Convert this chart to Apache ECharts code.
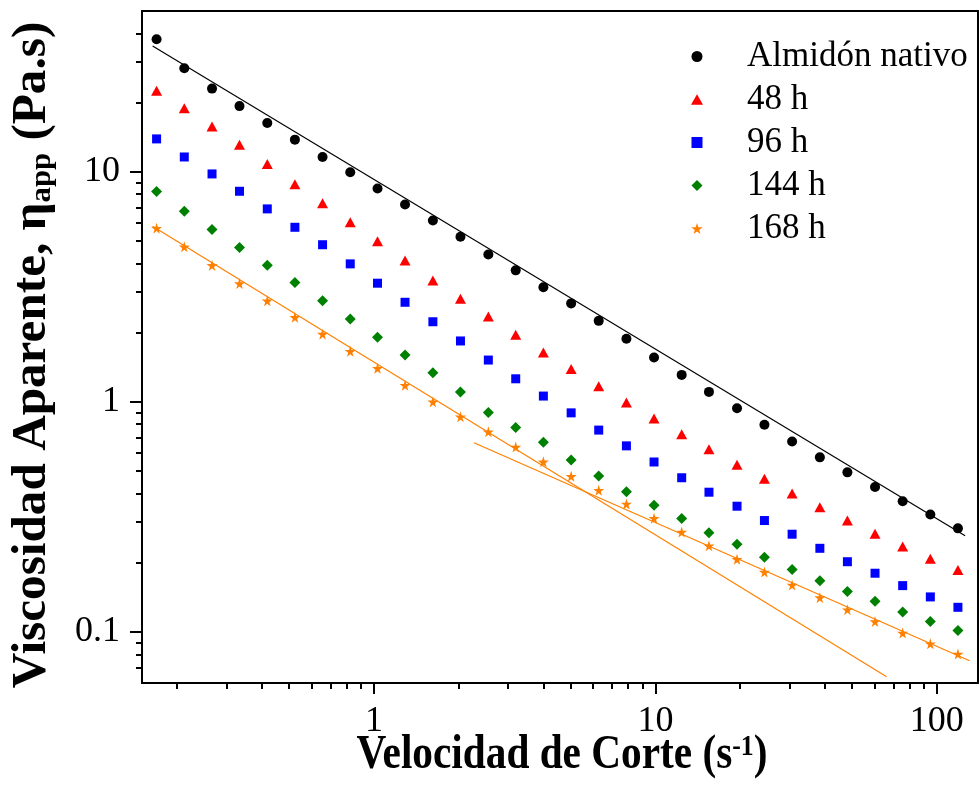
<!DOCTYPE html>
<html>
<head>
<meta charset="utf-8">
<script src="https://cdn.jsdelivr.net/npm/echarts@6/dist/echarts.min.js"></script>
<style>
html, body { margin: 0; padding: 0; background: #fff; }
#chart { width: 979px; height: 791px; }
</style>
</head>
<body>
<div id="chart"></div>
<script>
// velocidad de corte (1/s)
var shearRate = [0.169, 0.212, 0.266, 0.333, 0.418, 0.524, 0.657, 0.824, 1.03, 1.29,
    1.62, 2.03, 2.55, 3.19, 4.0, 5.02, 6.29, 7.89, 9.89, 12.4,
    15.5, 19.5, 24.4, 30.6, 38.4, 48.1, 60.3, 75.6, 94.8, 118.8];

// viscosidad aparente (Pa.s)
var nativo = [37.7, 28.2, 23.0, 19.3, 16.3, 13.8, 11.6, 9.95, 8.46, 7.21,
    6.14, 5.22, 4.37, 3.73, 3.15, 2.68, 2.25, 1.88, 1.56, 1.31,
    1.105, 0.939, 0.795, 0.673, 0.574, 0.494, 0.427, 0.370, 0.324, 0.282];
var h48 = [22.5, 18.9, 15.75, 13.1, 10.8, 8.83, 7.30, 6.04, 4.99, 4.12,
    3.37, 2.81, 2.35, 1.96, 1.64, 1.39, 1.17, 0.994, 0.847, 0.724,
    0.622, 0.533, 0.463, 0.400, 0.348, 0.305, 0.267, 0.235, 0.208, 0.186];
var h96 = [13.9, 11.6, 9.79, 8.23, 6.90, 5.74, 4.82, 3.98, 3.28, 2.71,
    2.23, 1.84, 1.52, 1.26, 1.06, 0.896, 0.754, 0.644, 0.548, 0.468,
    0.405, 0.352, 0.305, 0.266, 0.231, 0.202, 0.180, 0.159, 0.142, 0.128];
var h144 = [8.21, 6.74, 5.61, 4.69, 3.93, 3.30, 2.75, 2.29, 1.91, 1.60,
    1.34, 1.105, 0.900, 0.774, 0.667, 0.559, 0.476, 0.407, 0.355, 0.311,
    0.270, 0.2405, 0.211, 0.187, 0.167, 0.150, 0.136, 0.122, 0.111, 0.1015];
var h168 = [5.69, 4.72, 3.92, 3.27, 2.75, 2.33, 1.97, 1.66, 1.40, 1.18,
    1.00, 0.861, 0.741, 0.636, 0.549, 0.475, 0.413, 0.360, 0.312, 0.272,
    0.237, 0.207, 0.182, 0.160, 0.141, 0.125, 0.111, 0.0989, 0.0889, 0.0802];

// rectas de ajuste (extremos)
var fitNativoX = [0.1636, 126];
var fitNativoY = [35.2, 0.262];
var fit168aX = [0.1636, 66.3];
var fit168aY = [5.80, 0.0639];
var fit168bX = [2.266, 130.7];
var fit168bY = [0.664, 0.0750];

var seriesNames = ['Almidón nativo', '48 h', '96 h', '144 h', '168 h'];

// ticks
var xMajor = [1, 10, 100];
var xMinor = [0.2, 0.3, 0.4, 0.5, 0.6, 0.7, 0.8, 0.9, 2, 3, 4, 5, 6, 7, 8, 9,
    20, 30, 40, 50, 60, 70, 80, 90];
var yMajor = [0.1, 1, 10];
var yMinor = [0.07, 0.08, 0.09, 0.2, 0.3, 0.4, 0.5, 0.6, 0.7, 0.8, 0.9,
    2, 3, 4, 5, 6, 7, 8, 9, 20, 30, 40];

// simbolos como path para que la leyenda conserve la proporcion
var starPath = 'path://M50,0 L61,35 L98,35 L68,57 L79,91 L50,70 L21,91 L32,57 L2,35 L39,35 Z';
var trianglePath = 'path://M50,0 L100,88 L0,88 Z';
var squarePath = 'path://M0,0 L100,0 L100,100 L0,100 Z';
var diamondPath = 'path://M50,0 L100,50 L50,100 L0,50 Z';
var serifFont = '"Liberation Serif", "Times New Roman", serif';

function pairs(xs, ys) {
    var out = [];
    for (var i = 0; i < xs.length; i++) out.push([xs[i], ys[i]]);
    return out;
}

function logAxis(min, max, extra) {
    var base = {
        type: 'log', logBase: 10, min: min, max: max,
        splitLine: { show: false },
        axisLine: { show: false, onZero: false },
        axisTick: { show: false },
        axisLabel: { show: false }
    };
    return Object.assign(base, extra);
}

var chart = echarts.init(document.getElementById('chart'));

var lineStyle = { color: '#000', width: 2 };
var tickStyle = { color: '#000', width: 2 };
var labelStyle = { color: '#000', fontFamily: serifFont, fontSize: 36 };

var option = {
    animation: false,
    backgroundColor: '#fff',
    grid: { left: 142, right: 1, top: 11, bottom: 108 },
    xAxis: [
        logAxis(0.15, 140, {
            position: 'bottom',
            axisLine: { show: true, onZero: false, lineStyle: lineStyle },
            axisTick: { show: true, inside: false, length: 11, lineStyle: tickStyle, customValues: xMajor },
            axisLabel: Object.assign({ show: true, margin: 21, customValues: xMajor }, labelStyle)
        }),
        logAxis(0.15, 140, {
            position: 'bottom',
            axisTick: { show: true, inside: false, length: 6, lineStyle: tickStyle, customValues: xMinor }
        }),
        logAxis(0.15, 140, {
            position: 'top',
            axisLine: { show: true, onZero: false, lineStyle: lineStyle }
        })
    ],
    yAxis: [
        logAxis(0.06, 50, {
            position: 'left',
            axisLine: { show: true, onZero: false, lineStyle: lineStyle },
            axisTick: { show: true, inside: false, length: 12, lineStyle: tickStyle, customValues: yMajor },
            axisLabel: Object.assign({ show: true, margin: 22, customValues: yMajor }, labelStyle)
        }),
        logAxis(0.06, 50, {
            position: 'left',
            axisTick: { show: true, inside: false, length: 6, lineStyle: tickStyle, customValues: yMinor }
        }),
        logAxis(0.06, 50, {
            position: 'right',
            axisLine: { show: true, onZero: false, lineStyle: lineStyle }
        })
    ],
    legend: {
        orient: 'vertical',
        left: 686,
        top: 34,
        itemWidth: 12,
        itemHeight: 11,
        itemGap: 8,
        selectedMode: false,
        data: seriesNames,
        textStyle: { color: '#000', fontFamily: serifFont, fontSize: 35, lineHeight: 35, padding: [0, 0, 0, 39] }
    },
    graphic: [
        {
            type: 'text',
            x: 562, y: 756,
            scaleX: 0.86,
            style: {
                text: '{t|Velocidad de Corte (s}{sup|-1}{t|)}',
                align: 'center',
                verticalAlign: 'middle',
                rich: {
                    t: { fontFamily: serifFont, fontWeight: 'bold', fontSize: 48, fill: '#000', verticalAlign: 'bottom' },
                    sup: { fontFamily: serifFont, fontWeight: 'bold', fontSize: 30, fill: '#000', verticalAlign: 'top' }
                }
            }
        },
        {
            type: 'text',
            x: 33, y: 355,
            rotation: Math.PI / 2,
            scaleX: 1.025,
            style: {
                text: '{t|Viscosidad Aparente, η}{sub|app}{t| (Pa.s)}',
                align: 'center',
                verticalAlign: 'middle',
                rich: {
                    t: { fontFamily: serifFont, fontWeight: 'bold', fontSize: 48, fill: '#000', verticalAlign: 'top' },
                    sub: { fontFamily: serifFont, fontWeight: 'bold', fontSize: 30, fill: '#000', verticalAlign: 'bottom' }
                }
            }
        }
    ],
    series: [
        {
            type: 'line', data: pairs(fitNativoX, fitNativoY), showSymbol: false, silent: true,
            lineStyle: { color: '#000', width: 1.2 }, z: 1
        },
        {
            type: 'line', data: pairs(fit168aX, fit168aY), showSymbol: false, silent: true,
            lineStyle: { color: '#ff8000', width: 1.2 }, z: 1
        },
        {
            type: 'line', data: pairs(fit168bX, fit168bY), showSymbol: false, silent: true,
            lineStyle: { color: '#ff8000', width: 1.2 }, z: 1
        },
        {
            name: seriesNames[0], type: 'scatter', data: pairs(shearRate, nativo),
            symbol: 'circle', symbolSize: 10, itemStyle: { color: '#000', opacity: 1 }
        },
        {
            name: seriesNames[1], type: 'scatter', data: pairs(shearRate, h48),
            symbol: trianglePath, symbolSize: [11, 10], itemStyle: { color: '#ff0000', opacity: 1 }
        },
        {
            name: seriesNames[2], type: 'scatter', data: pairs(shearRate, h96),
            symbol: squarePath, symbolSize: 9, itemStyle: { color: '#0000ff', opacity: 1 }
        },
        {
            name: seriesNames[3], type: 'scatter', data: pairs(shearRate, h144),
            symbol: diamondPath, symbolSize: 11, itemStyle: { color: '#008000', opacity: 1 }
        },
        {
            name: seriesNames[4], type: 'scatter', data: pairs(shearRate, h168),
            symbol: starPath, symbolSize: 11, itemStyle: { color: '#ff8000', opacity: 1 }
        }
    ]
};

chart.setOption(option);
</script>
</body>
</html>
